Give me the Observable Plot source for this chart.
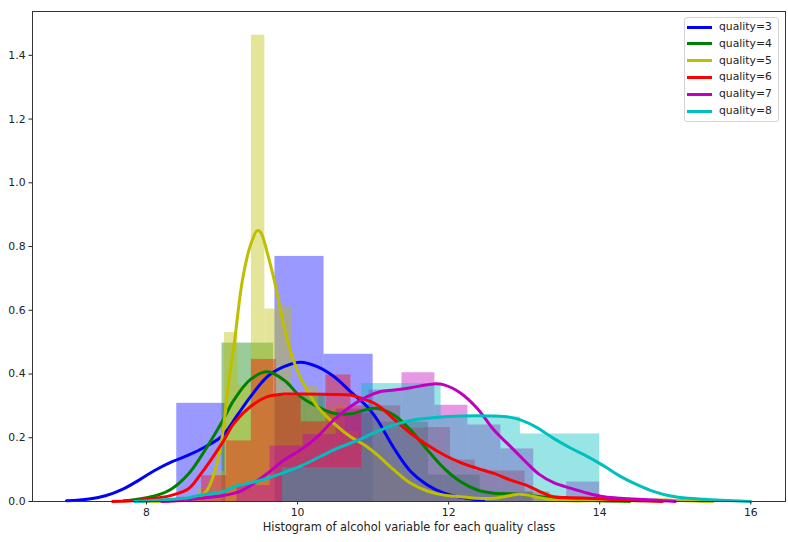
<!DOCTYPE html>
<html><head><meta charset="utf-8">
<script src="https://cdn.jsdelivr.net/npm/d3@7"></script>
<script src="https://cdn.jsdelivr.net/npm/@observablehq/plot@0.6"></script>
<style>
body{margin:0;background:#fff;font-family:"DejaVu Sans",sans-serif;}
#wrap{position:relative;width:788px;height:542px;}
#legend{position:absolute;left:684px;top:17px;width:95px;height:105px;border:1px solid #d4d4d4;border-radius:3px;background:rgba(255,255,255,0.8);box-sizing:border-box;}
.item{position:absolute;left:0;height:14px;font-size:10.8px;color:#222;}
.sw{position:absolute;left:2px;top:5.5px;width:25px;height:3px;}
.lab{position:absolute;left:34px;top:0;line-height:14px;white-space:nowrap;}
</style>
</head><body>
<div id="wrap"></div>
<script>
const qualities = ["quality=3","quality=4","quality=5","quality=6","quality=7","quality=8"];
const colors = ["#0000ff","#008000","#bfbf00","#ff0000","#bf00bf","#00bfbf"];
const xTicks = [8,10,12,14,16];
const yTicks = [0,0.2,0.4,0.6,0.8,1.0,1.2,1.4];
const xLabel = "Histogram of alcohol variable for each quality class";

// histogram bin edges and densities per quality class
const edges3 = [8.4, 9.05, 9.7, 10.35, 11.0];
const dens3  = [0.308, 0, 0.769, 0.462];
const edges4 = [9.0, 9.683, 10.367, 11.05, 11.733, 12.417, 13.1];
const dens4  = [0.497, 0.331, 0.276, 0.249, 0.083, 0.028];
const edges5 = [8.5, 8.678, 8.856, 9.033, 9.211, 9.389, 9.567, 9.744, 9.922, 10.1, 10.278, 10.456, 10.633, 10.811, 10.989, 11.167, 11.344, 11.522, 11.7, 11.878, 12.056, 12.233, 12.411, 12.589, 12.767, 12.944, 13.122, 13.3, 13.478, 13.656, 13.833, 14.011, 14.189, 14.367, 14.544, 14.722, 14.9];
const dens5  = [0.016, 0.041, 0.094, 0.53, 0.364, 1.463, 0.604, 0.61, 0.33, 0.36, 0.28, 0.30, 0.22, 0.18, 0.15, 0.10, 0.08, 0.05, 0.04, 0.03, 0.02, 0.01, 0.01, 0, 0.02, 0.03, 0.008, 0, 0, 0, 0, 0.008, 0, 0, 0, 0.008];
const edges6 = [8.4, 8.729, 9.059, 9.388, 9.718, 10.047, 10.376, 10.706, 11.035, 11.365, 11.694, 12.024, 12.353, 12.682, 13.012, 13.341, 13.671, 14.0];
const dens6  = [0.013, 0.081, 0.19, 0.446, 0.33, 0.25, 0.397, 0.30, 0.30, 0.23, 0.232, 0.13, 0.096, 0.096, 0.03, 0.01, 0.013];
const edges7 = [9.2, 9.636, 10.073, 10.509, 10.945, 11.382, 11.818, 12.255, 12.691, 13.127, 13.564, 14.0];
const dens7  = [0.05, 0.174, 0.21, 0.29, 0.35, 0.404, 0.302, 0.24, 0.165, 0, 0.061];
const edges8 = [9.8, 10.85, 11.9, 12.95, 14.0];
const dens8  = [0.106, 0.37, 0.265, 0.212];

// KDE curves: [alcohol, density]
const kde3 = [[6.94,0.002],[7.236,0.008],[7.457,0.018],[7.68,0.038],[7.9,0.067],[8.119,0.099],[8.34,0.125],[8.56,0.146],[8.78,0.172],[9.0,0.205],[9.2,0.27],[9.377,0.329],[9.6,0.392],[9.82,0.423],[10.04,0.437],[10.26,0.423],[10.48,0.392],[10.7,0.345],[10.92,0.298],[11.056,0.256],[11.276,0.167],[11.497,0.094],[11.718,0.052],[11.94,0.026],[12.16,0.013],[12.38,0.006],[12.46,0.003]];
const kde4 = [[7.7,0.002],[7.81,0.005],[8.12,0.018],[8.34,0.041],[8.56,0.088],[8.715,0.139],[9.0,0.25],[9.156,0.318],[9.377,0.383],[9.6,0.407],[9.82,0.381],[10.04,0.329],[10.26,0.298],[10.48,0.277],[10.7,0.275],[10.92,0.289],[11.056,0.292],[11.276,0.271],[11.497,0.224],[11.718,0.162],[11.94,0.104],[12.16,0.062],[12.38,0.036],[12.6,0.026],[12.82,0.024],[13.04,0.02],[13.22,0.015],[13.5,0.008],[14.0,0.002],[14.4,0.0]];
const kde5 = [[7.9,0],[8.4,0.002],[8.65,0.008],[8.8,0.035],[8.91,0.1],[9.0,0.2],[9.09,0.38],[9.156,0.486],[9.27,0.695],[9.377,0.805],[9.466,0.85],[9.51,0.845],[9.6,0.779],[9.71,0.674],[9.82,0.548],[9.93,0.454],[10.04,0.387],[10.15,0.34],[10.26,0.298],[10.48,0.245],[10.7,0.203],[10.9,0.175],[11.056,0.146],[11.276,0.099],[11.497,0.057],[11.718,0.033],[11.94,0.02],[12.16,0.015],[12.38,0.01],[12.6,0.01],[12.8,0.018],[12.93,0.023],[13.04,0.02],[13.3,0.008],[13.5,0.003],[13.8,0.002],[14.0,0.004],[14.3,0.002],[14.6,0.003],[14.9,0.005],[15.2,0.002],[15.5,0]];
const kde6 = [[7.55,0],[7.9,0.004],[8.12,0.01],[8.34,0.02],[8.56,0.041],[8.715,0.085],[9.0,0.183],[9.156,0.245],[9.377,0.298],[9.6,0.329],[9.82,0.337],[10.04,0.337],[10.48,0.336],[10.7,0.334],[10.834,0.325],[11.056,0.303],[11.276,0.258],[11.497,0.214],[11.718,0.177],[11.94,0.146],[12.16,0.122],[12.38,0.104],[12.6,0.088],[12.82,0.067],[13.04,0.05],[13.2,0.032],[13.39,0.015],[13.62,0.012],[13.84,0.01],[14.06,0.008],[14.28,0.005],[14.83,0]];
const kde7 = [[8.2,0],[8.5,0.004],[8.715,0.01],[9.0,0.018],[9.22,0.03],[9.377,0.05],[9.6,0.088],[9.82,0.13],[10.04,0.162],[10.26,0.203],[10.48,0.256],[10.7,0.298],[10.92,0.329],[11.1,0.345],[11.276,0.35],[11.497,0.357],[11.8,0.369],[11.94,0.366],[12.16,0.34],[12.38,0.292],[12.6,0.224],[12.82,0.172],[12.95,0.141],[13.04,0.12],[13.2,0.085],[13.39,0.059],[13.62,0.041],[13.84,0.026],[14.06,0.015],[14.28,0.01],[14.72,0.005],[15.0,0]];
const kde8 = [[7.84,0],[8.2,0.005],[8.56,0.012],[8.715,0.02],[9.0,0.03],[9.156,0.046],[9.44,0.062],[9.6,0.073],[10.04,0.111],[10.48,0.162],[10.834,0.196],[11.056,0.22],[11.276,0.24],[11.497,0.254],[11.718,0.261],[12.16,0.268],[12.6,0.268],[12.82,0.264],[12.95,0.256],[13.17,0.232],[13.39,0.198],[13.62,0.167],[13.84,0.141],[14.06,0.111],[14.28,0.078],[14.5,0.052],[14.72,0.031],[14.94,0.017],[15.17,0.01],[15.39,0.007],[15.6,0.004],[16.0,0]];

const allEdges = [edges3, edges4, edges5, edges6, edges7, edges8];
const allDens = [dens3, dens4, dens5, dens6, dens7, dens8];
const allKde = [kde3, kde4, kde5, kde6, kde7, kde8];

const barMarks = allEdges.map((edges, i) => {
  const bins = allDens[i].map((d, k) => ({x1: edges[k], x2: edges[k + 1], y: d}));
  return Plot.rectY(bins, {x1: "x1", x2: "x2", y: "y", fill: colors[i], fillOpacity: 0.4, inset: 0});
});
const lineMarks = allKde.map((pts, i) =>
  Plot.line(pts, {x: d => d[0], y: d => d[1], stroke: colors[i], strokeWidth: 3, curve: "catmull-rom", strokeLinejoin: "round"})
);

const chart = Plot.plot({
  width: 788,
  height: 542,
  marginLeft: 32,
  marginRight: 3,
  marginTop: 11,
  marginBottom: 41,
  style: {fontFamily: "DejaVu Sans, sans-serif", fontSize: "10.8px", color: "#222", background: "#fff"},
  x: {domain: [6.49, 16.46]},
  y: {domain: [0, 1.5375]},
  marks: [
    ...barMarks,
    ...lineMarks,
    Plot.axisX(xTicks, {tickSize: 3.5, tickPadding: 3.5, label: null, tickFormat: d => String(d), fontSize: 10.8}),
    Plot.axisY(yTicks, {tickSize: 3.5, tickPadding: 3.5, label: null, tickFormat: d3.format(".1f"), fontSize: 10.8}),
    Plot.frame({stroke: "#333"}),
    Plot.text([xLabel], {frameAnchor: "bottom", dy: 29, text: d => d, fontSize: 11.4})
  ]
});
const wrap = document.getElementById("wrap");
wrap.appendChild(chart);

const legend = document.createElement("div");
legend.id = "legend";
qualities.forEach((q, i) => {
  const item = document.createElement("div");
  item.className = "item";
  item.style.top = (2 + i * 16.8) + "px";
  const sw = document.createElement("div");
  sw.className = "sw";
  sw.style.background = colors[i];
  const lab = document.createElement("div");
  lab.className = "lab";
  lab.textContent = q;
  item.appendChild(sw);
  item.appendChild(lab);
  legend.appendChild(item);
});
wrap.appendChild(legend);
</script>
</body></html>
